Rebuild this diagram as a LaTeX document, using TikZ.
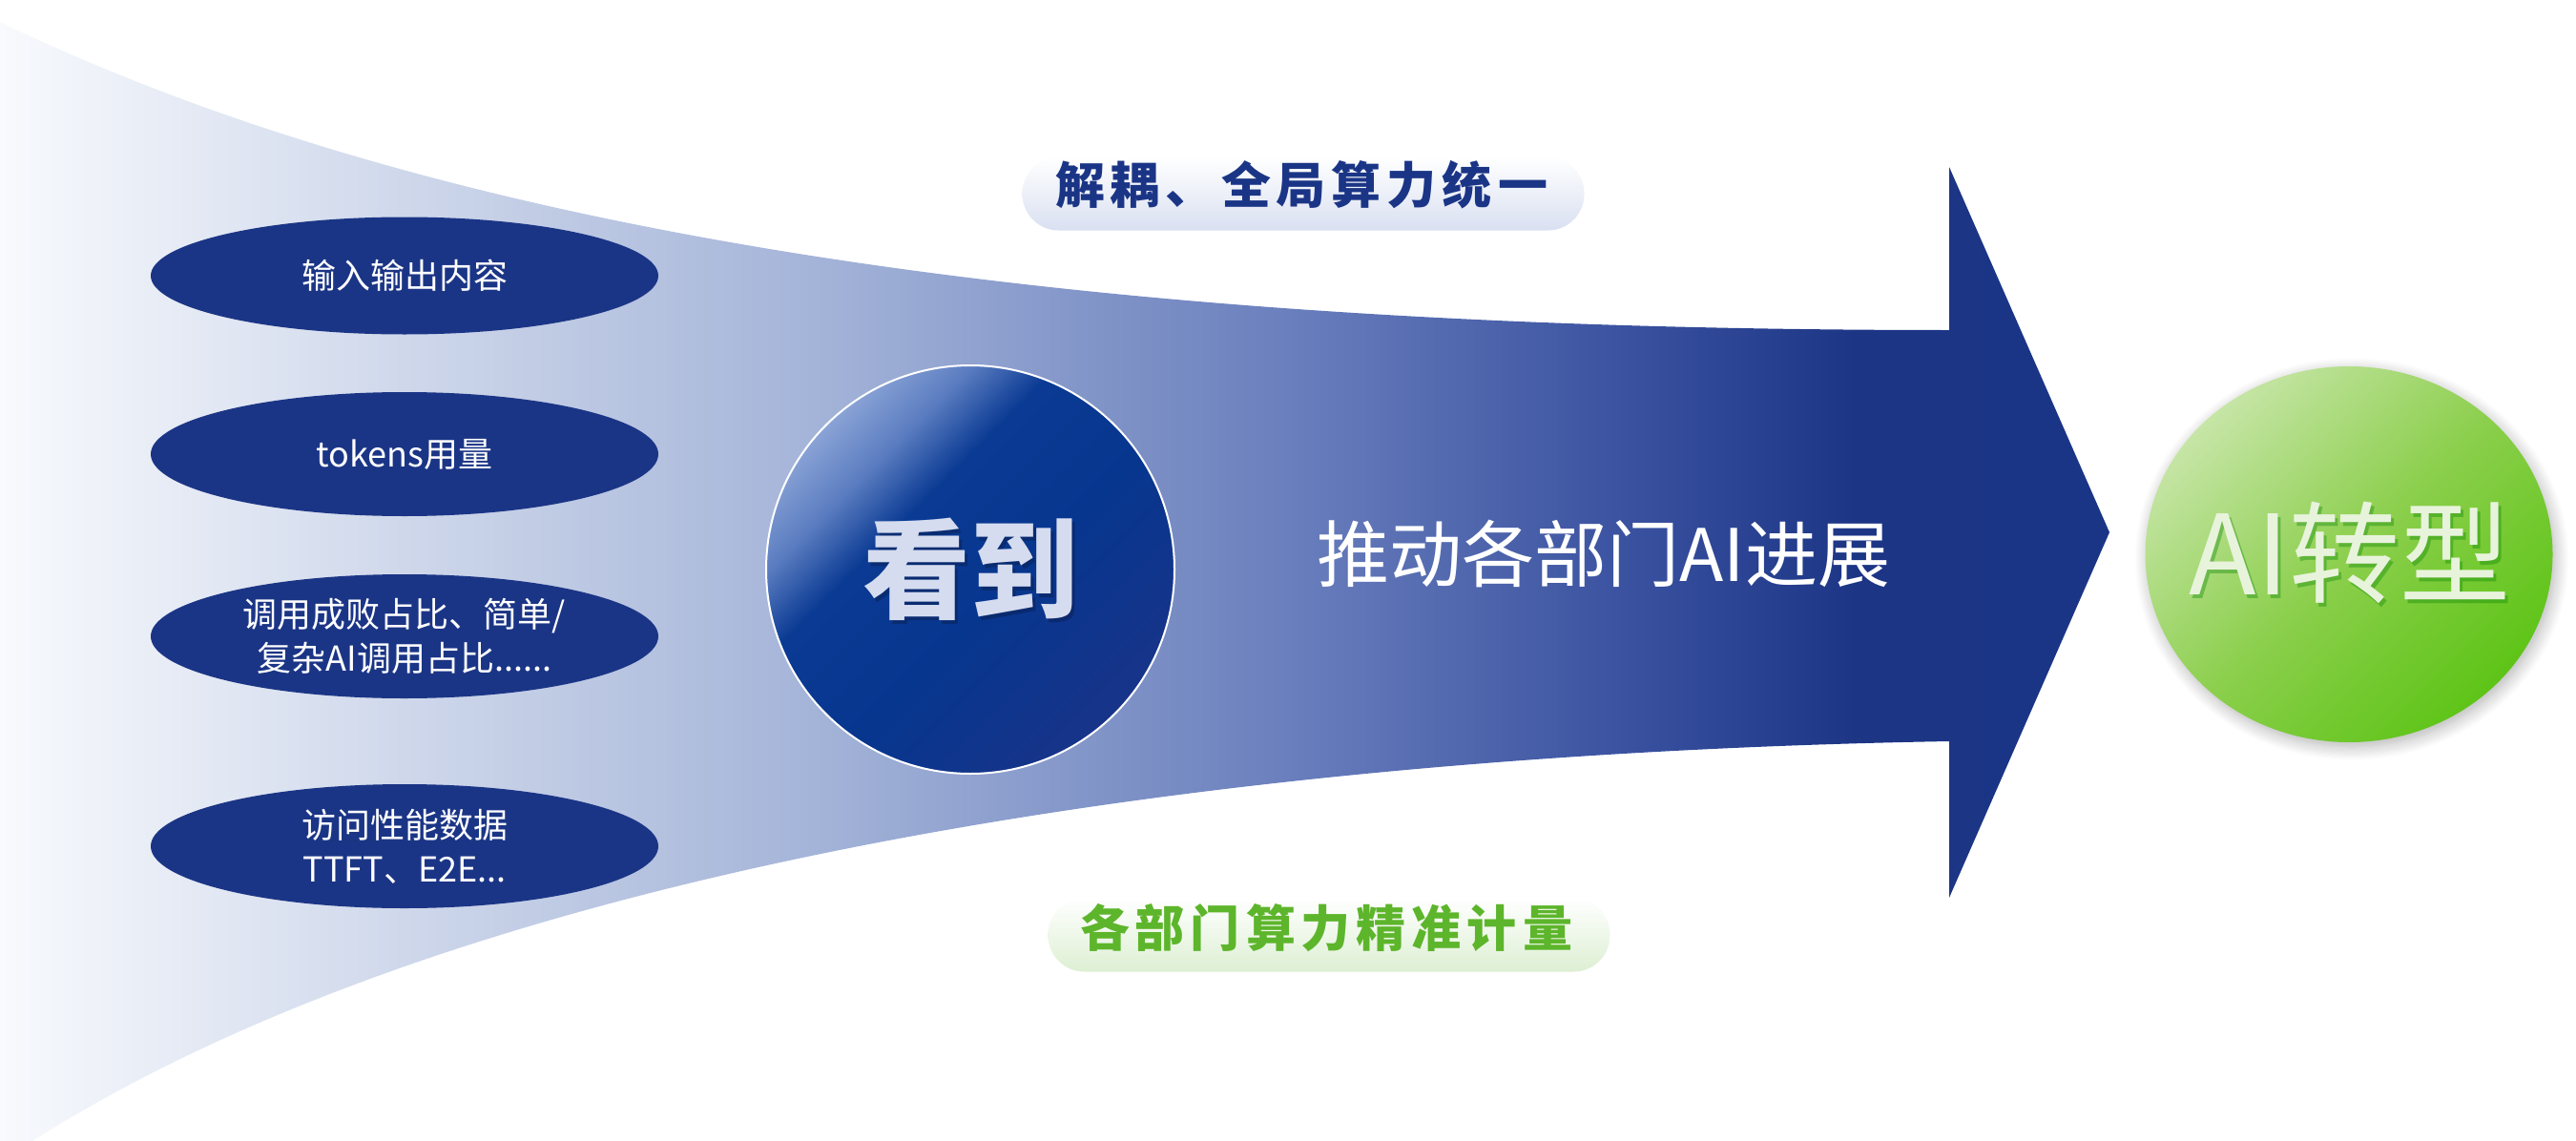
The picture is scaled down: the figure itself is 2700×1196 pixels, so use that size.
\documentclass[tikz,border=0pt]{standalone}
\usepackage{fontspec}
\setmainfont{Noto Sans CJK SC}
\usetikzlibrary{shapes.geometric,shadows.blur}
\definecolor{navy}{HTML}{1B3586}
\definecolor{fl0}{HTML}{F8FAFD}
\definecolor{fl1}{HTML}{CDD6EA}
\definecolor{fl2}{HTML}{A3B3D8}
\definecolor{fl3}{HTML}{6A7FBD}
\definecolor{fl4}{HTML}{3A52A0}
\definecolor{fl5}{HTML}{1C3585}
\definecolor{kc0}{HTML}{8AA3D6}
\definecolor{kc1}{HTML}{5A7CC0}
\definecolor{kc2}{HTML}{0A3A93}
\definecolor{kc3}{HTML}{07368F}
\definecolor{kc4}{HTML}{173489}
\definecolor{gc0}{HTML}{C6E5A6}
\definecolor{gc1}{HTML}{8CCF4D}
\definecolor{gc2}{HTML}{5EC417}
\definecolor{kantext}{HTML}{D5DCEF}
\definecolor{aitext}{HTML}{E8F3DC}
\definecolor{greentext}{HTML}{5DB52B}
\definecolor{pillblue}{HTML}{D9E0F1}
\definecolor{pillgreen}{HTML}{DDEFD3}
\pgfdeclarehorizontalshading{flowshade}{100bp}{color(0bp)=(fl0); color(25bp)=(fl0); color(35bp)=(fl1); color(44.5bp)=(fl2); color(55.5bp)=(fl3); color(63.5bp)=(fl4); color(69bp)=(fl5); color(75bp)=(navy); color(100bp)=(navy)}
\pgfdeclarehorizontalshading{kanshade}{100bp}{color(0bp)=(kc0); color(25bp)=(kc0); color(32.5bp)=(kc1); color(40bp)=(kc2); color(55bp)=(kc3); color(75bp)=(kc4); color(100bp)=(kc4)}
\pgfdeclarehorizontalshading{greenshade}{100bp}{color(0bp)=(gc0); color(25bp)=(gc0); color(50bp)=(gc1); color(75bp)=(gc2); color(100bp)=(gc2)}
\def\lsp#1{\lspA#1\relax}
\def\lspA#1{\ifx#1\relax\else#1\hskip6pt\expandafter\lspA\fi}
\tikzset{
  infobox/.style={ellipse, fill=navy, text=white, inner sep=0pt, minimum width=532pt,
    align=center, font=\fontsize{36}{46}\selectfont},
  pillbox/.style={rounded corners=38pt, minimum width=589pt, minimum height=77pt, inner sep=0pt},
  pilltext/.style={font=\fontsize{52}{60}\selectfont\bfseries, inner sep=0pt}
}
\begin{document}
\begin{tikzpicture}[x=1pt,y=-1pt]
\useasboundingbox (0,0) rectangle (2700,1196);
% big flow arrow
\shade[shading=flowshade] (0,23) .. controls (450,240) and (1100,346) .. (2043,346)
  -- (2043,175) -- (2211,558) -- (2043,941) -- (2043,777)
  .. controls (1300,790) and (500,900) .. (34,1196) -- (0,1196) -- cycle;
% info ellipses
\node[infobox, minimum height=123pt] (e1) at (424,289) {输入输出内容};
\node[infobox, minimum height=130pt] (e2) at (424,476) {tokens用量};
\node[infobox, minimum height=130pt] (e3) at (424,667) {调用成败占比、简单/\\复杂AI调用占比......};
\node[infobox, minimum height=130pt] (e4) at (424,887) {访问性能数据\\TTFT、E2E...};
% see circle
\node[circle, minimum size=428pt, inner sep=0pt, shading=kanshade, shading angle=-45,
      draw=white, line width=2pt] (see) at (1017,597) {};
\node[text=black!60!navy, opacity=0.35, font=\fontsize{113}{120}\selectfont\bfseries] (seeshadow) at (1020,601) {看到};
\node[text=kantext, font=\fontsize{113}{120}\selectfont\bfseries] (seetext) at (1017,597) {看到};
% middle text
\node[text=white, font=\fontsize{76}{84}\selectfont] (push) at (1681,580) {推动各部门AI进展};
% green circle
\node[ellipse, minimum width=427pt, minimum height=394pt, inner sep=0pt, shading=greenshade,
      shading angle=-45, blur shadow={shadow xshift=3pt, shadow yshift=-5pt, shadow blur radius=14pt,
      shadow opacity=30, shadow blur steps=12}] (ai) at (2462,581) {};
\node[text=black!50!green, opacity=0.35, font=\fontsize{116}{124}\selectfont] (aishadow) at (2466,583) {AI转型};
\node[text=aitext, font=\fontsize{116}{124}\selectfont] (aitext) at (2463,579) {AI转型};
% pills
\node[pillbox, top color=white, bottom color=pillblue] (topPill) at (1366,203) {};
\node[pilltext, text=navy] (topLabel) at (1364,194) {\lsp{解耦、全局算力统一}};
\node[pillbox, top color=white, bottom color=pillgreen] (botPill) at (1393,980) {};
\node[pilltext, text=greentext] (botLabel) at (1390,973) {\lsp{各部门算力精准计量}};
\end{tikzpicture}
\end{document}
